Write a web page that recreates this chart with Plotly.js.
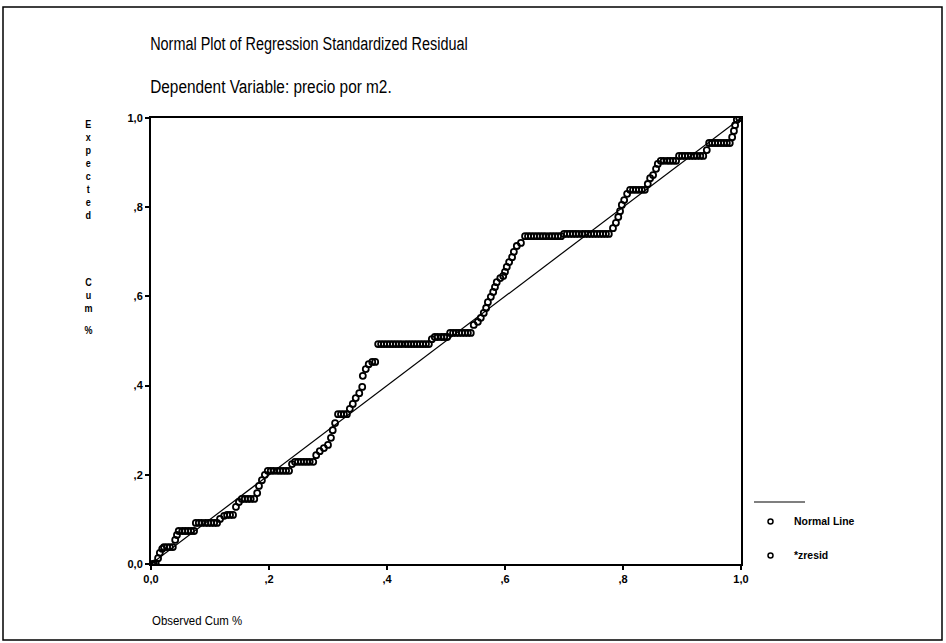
<!DOCTYPE html>
<html>
<head>
<meta charset="utf-8">
<script src="https://cdn.plot.ly/plotly-3.0.1.min.js"></script>
<style>
  html, body { margin: 0; padding: 0; background: #ffffff; }
  #chart { width: 946px; height: 643px; }
</style>
</head>
<body>
<div id="chart"></div>
<script>
// Observed cumulative probability (x) of each standardized residual
const obsCum = [
  0.002, 0.005, 0.008,
  0.012, 0.015, 0.019,
  0.022, 0.027, 0.032, 0.037,
  0.041, 0.044,
  0.047, 0.053, 0.058, 0.063, 0.068, 0.073,
  0.076, 0.081, 0.086, 0.092, 0.097, 0.102, 0.107, 0.112,
  0.117, 0.124, 0.129, 0.134, 0.139,
  0.144, 0.149, 0.154, 0.159, 0.164, 0.169, 0.175,
  0.180, 0.183, 0.188, 0.193,
  0.198, 0.203, 0.208, 0.214, 0.219, 0.224, 0.229, 0.234,
  0.239, 0.244, 0.249, 0.254, 0.259, 0.264, 0.269, 0.275,
  0.280, 0.286, 0.293, 0.300, 0.305, 0.308, 0.312,
  0.317, 0.322, 0.327, 0.332,
  0.337, 0.342, 0.347, 0.353, 0.358,
  0.359, 0.364, 0.369, 0.375, 0.380,
  0.385, 0.390, 0.395, 0.400, 0.405, 0.410, 0.415, 0.420, 0.425,
  0.431, 0.436, 0.441, 0.446, 0.451, 0.456, 0.461, 0.466, 0.471,
  0.476, 0.481, 0.486, 0.492, 0.497, 0.502,
  0.507, 0.512, 0.517, 0.522, 0.527, 0.532, 0.537, 0.542,
  0.547, 0.554, 0.559, 0.564, 0.568, 0.571, 0.576, 0.580, 0.583, 0.586,
  0.592, 0.597, 0.600, 0.603, 0.607, 0.612, 0.615, 0.620, 0.627,
  0.634, 0.639, 0.644, 0.649, 0.654, 0.659, 0.664, 0.669, 0.675, 0.680, 0.685, 0.690, 0.695,
  0.700, 0.705, 0.710, 0.715, 0.720, 0.725, 0.731, 0.736, 0.741, 0.746, 0.751, 0.756, 0.761, 0.766, 0.771, 0.776,
  0.783, 0.788, 0.792, 0.795, 0.798, 0.802, 0.807,
  0.812, 0.817, 0.822, 0.827, 0.832, 0.837,
  0.842, 0.846, 0.851, 0.856, 0.859,
  0.864, 0.869, 0.875, 0.880, 0.885, 0.890,
  0.895, 0.900, 0.905, 0.910, 0.915, 0.920, 0.925, 0.931, 0.936,
  0.942,
  0.946, 0.951, 0.956, 0.961, 0.966, 0.971, 0.976, 0.981,
  0.985, 0.988, 0.990, 0.993, 0.997
];

// Expected cumulative probability (y) of each standardized residual
const expCum = [
  0.000, 0.000, 0.002,
  0.013, 0.025, 0.034,
  0.038, 0.038, 0.038, 0.038,
  0.054, 0.065,
  0.074, 0.074, 0.074, 0.074, 0.074, 0.074,
  0.092, 0.092, 0.092, 0.092, 0.092, 0.092, 0.092, 0.092,
  0.101, 0.108, 0.110, 0.110, 0.110,
  0.128, 0.139, 0.146, 0.146, 0.146, 0.146, 0.146,
  0.159, 0.175, 0.188, 0.200,
  0.209, 0.209, 0.209, 0.209, 0.209, 0.209, 0.209, 0.209,
  0.224, 0.229, 0.229, 0.229, 0.229, 0.229, 0.229, 0.229,
  0.244, 0.253, 0.260, 0.267, 0.283, 0.300, 0.316,
  0.336, 0.336, 0.336, 0.336,
  0.348, 0.359, 0.372, 0.383, 0.397,
  0.422, 0.437, 0.448, 0.453, 0.453,
  0.493, 0.493, 0.493, 0.493, 0.493, 0.493, 0.493, 0.493, 0.493,
  0.493, 0.493, 0.493, 0.493, 0.493, 0.493, 0.493, 0.493, 0.493,
  0.504, 0.509, 0.509, 0.509, 0.509, 0.509,
  0.518, 0.518, 0.518, 0.518, 0.518, 0.518, 0.518, 0.518,
  0.536, 0.543, 0.552, 0.563, 0.574, 0.587, 0.599, 0.610, 0.621, 0.632,
  0.641, 0.646, 0.655, 0.666, 0.677, 0.688, 0.700, 0.713, 0.720,
  0.735, 0.735, 0.735, 0.735, 0.735, 0.735, 0.735, 0.735, 0.735, 0.735, 0.735, 0.735, 0.735,
  0.740, 0.740, 0.740, 0.740, 0.740, 0.740, 0.740, 0.740, 0.740, 0.740, 0.740, 0.740, 0.740, 0.740, 0.740, 0.740,
  0.753, 0.765, 0.778, 0.791, 0.805, 0.816, 0.830,
  0.839, 0.839, 0.839, 0.839, 0.839, 0.839,
  0.852, 0.865, 0.872, 0.886, 0.897,
  0.904, 0.904, 0.904, 0.904, 0.904, 0.904,
  0.915, 0.915, 0.915, 0.915, 0.915, 0.915, 0.915, 0.915, 0.915,
  0.928,
  0.944, 0.944, 0.944, 0.944, 0.944, 0.944, 0.944, 0.944,
  0.957, 0.971, 0.984, 0.996, 1.000
];

// Normal (reference) line
const normalLineX = [0, 1];
const normalLineY = [0, 1];

// Axis ticks
const tickVals = [0, 0.2, 0.4, 0.6, 0.8, 1.0];
const tickText = ['0,0', ',2', ',4', ',6', ',8', '1,0'];

// Texts
const titleLine1 = 'Normal Plot of Regression Standardized Residual';
const titleLine2 = 'Dependent Variable: precio por m2.';
const xTitle = 'Observed Cum %';
const yTitleWords = ['Expected', 'Cum', '%'];
const legendNames = ['Normal Line', '*zresid'];

const sans = '"Liberation Sans", Arial, sans-serif';

const traces = [
  {
    x: normalLineX, y: normalLineY,
    type: 'scatter', mode: 'lines',
    name: legendNames[0],
    line: { color: '#000000', width: 1.2 },
    hoverinfo: 'skip', showlegend: false
  },
  {
    x: obsCum, y: expCum,
    type: 'scatter', mode: 'markers',
    name: legendNames[1],
    marker: { symbol: 'circle-open', size: 6, color: '#000000', line: { width: 1.8, color: '#000000' } },
    showlegend: false
  }
];

// pixel helpers for decoration placement (plot area: x 151..741, y 118..564)
const PL = 151, PW = 590, PB = 564, PH = 446;
const px = v => (v - PL) / PW;
const py = v => (PB - v) / PH;

// horizontal condensing of some texts (index -> scaleX)
const condense = {};

const annotations = [];
function addText(text, x, y, opts, scale) {
  const a = Object.assign({ text: text, x: px(x), y: py(y), xref: 'paper', yref: 'paper',
    xanchor: 'left', yanchor: 'middle', showarrow: false }, opts);
  if (scale) condense[annotations.length] = scale;
  annotations.push(a);
}

addText(titleLine1, 148, 43, { font: { family: sans, size: 19, color: '#000' } }, 0.76);
addText(titleLine2, 148, 87, { font: { family: sans, size: 19, color: '#000' } }, 0.81);
addText(xTitle, 150, 620, { font: { family: sans, size: 13, color: '#000' } }, 0.88);

// stacked vertical y-axis title: one word per text, one letter per row (13 px rows)
const yWordFirstRow = [125, 282, 330];
const yRow = 13;
yTitleWords.forEach((w, wi) => {
  const n = w.length;
  addText('<b>' + w.split('').join('<br>') + '</b>', 88, yWordFirstRow[wi] + (n - 1) * yRow / 2,
    { xanchor: 'center', font: { family: sans, size: 10, color: '#000' } }, 0.9);
});

addText('<b>' + legendNames[0] + '</b>', 792, 521, { font: { family: sans, size: 11, color: '#000' } }, 0.95);
addText('<b>' + legendNames[1] + '</b>', 792, 555, { font: { family: sans, size: 11, color: '#000' } }, 0.95);

const shapes = [
  // outer frame
  { type: 'rect', xref: 'paper', yref: 'paper', x0: px(3), x1: px(942), y0: py(640), y1: py(7),
    line: { color: '#000', width: 1.5 } },
  // legend line sample
  { type: 'line', xref: 'paper', yref: 'paper', x0: px(754), x1: px(805), y0: py(502), y1: py(502),
    line: { color: '#000', width: 1.2 } },
  // legend circles
  { type: 'circle', xref: 'paper', yref: 'paper', x0: px(768), x1: px(773), y0: py(524), y1: py(519),
    line: { color: '#000', width: 1.5 } },
  { type: 'circle', xref: 'paper', yref: 'paper', x0: px(768), x1: px(773), y0: py(558), y1: py(553),
    line: { color: '#000', width: 1.5 } }
];

const axisCommon = {
  range: [0, 1],
  tickvals: tickVals, ticktext: tickText,
  showgrid: false, zeroline: false,
  showline: true, linecolor: '#000', linewidth: 2, mirror: true,
  ticks: 'outside', ticklen: 4, tickwidth: 2, tickcolor: '#000',
  tickfont: { family: sans, size: 11, color: '#000', weight: 'bold' },
  fixedrange: true
};

const layout = {
  width: 946, height: 643,
  margin: { l: 151, r: 205, t: 118, b: 79, pad: 0 },
  paper_bgcolor: '#ffffff', plot_bgcolor: '#ffffff',
  showlegend: false,
  xaxis: Object.assign({}, axisCommon, { title: { text: '' } }),
  yaxis: Object.assign({}, axisCommon, { title: { text: '' } }),
  annotations: annotations,
  shapes: shapes
};

Plotly.newPlot('chart', traces, layout, { displayModeBar: false, staticPlot: true }).then(gd => {
  Object.keys(condense).forEach(i => {
    const t = gd.querySelector('g.annotation[data-index="' + i + '"] text.annotation-text');
    if (!t) return;
    const s = condense[i];
    const a = annotations[i];
    t.style.transformBox = 'fill-box';
    t.style.transformOrigin = (a.xanchor === 'center' ? '50%' : '0%') + ' 50%';
    t.style.transform = 'scaleX(' + s + ')';
  });
});
</script>
</body>
</html>
